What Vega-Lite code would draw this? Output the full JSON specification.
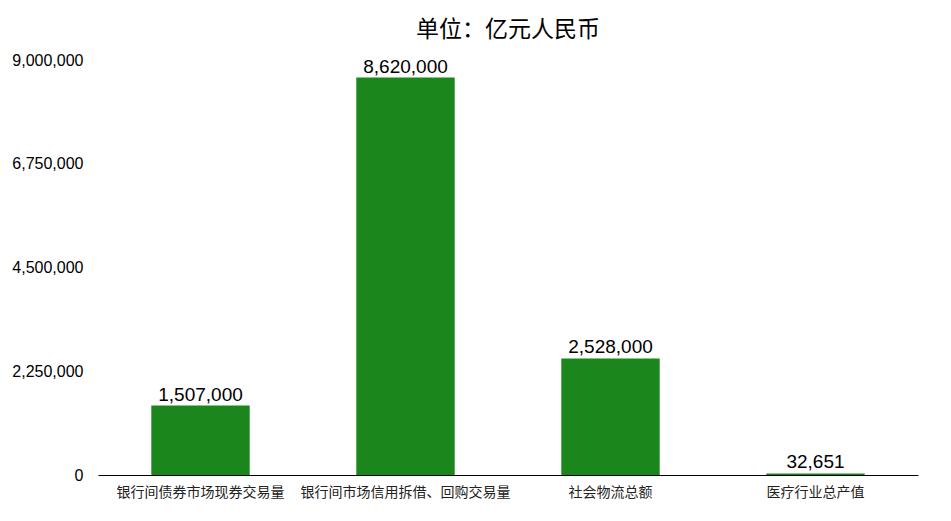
{
  "$schema": "https://vega.github.io/schema/vega-lite/v6.json",
  "autosize": "none",
  "padding": {"left": 98, "top": 60, "right": 33, "bottom": 46},
  "width": 820,
  "height": 415,
  "background": "white",
  "title": {
    "text": "单位：亿元人民币",
    "font": "Noto Sans CJK SC",
    "fontSize": 23,
    "fontWeight": "normal",
    "color": "#000000",
    "anchor": "middle",
    "offset": 10
  },
  "data": {
    "values": [
      {"item": "银行间债券市场现券交易量", "value": 1507000},
      {"item": "银行间市场信用拆借、回购交易量", "value": 8620000},
      {"item": "社会物流总额", "value": 2528000},
      {"item": "医疗行业总产值", "value": 32651}
    ]
  },
  "encoding": {
    "x": {
      "field": "item",
      "type": "nominal",
      "sort": null,
      "scale": {"paddingInner": 0.52, "paddingOuter": 0.26},
      "axis": {"title": null}
    },
    "y": {
      "field": "value",
      "type": "quantitative",
      "scale": {"domain": [0, 9000000], "nice": false},
      "axis": {
        "title": null,
        "values": [0, 2250000, 4500000, 6750000, 9000000],
        "labelExpr": "format(datum.value, ',')"
      }
    }
  },
  "layer": [
    {"mark": {"type": "bar", "color": "#1b861b"}},
    {
      "mark": {
        "type": "text",
        "baseline": "alphabetic",
        "dy": -5,
        "fontSize": 19,
        "font": "Liberation Sans",
        "color": "#000000"
      },
      "encoding": {"text": {"field": "value", "type": "quantitative", "format": ","}}
    }
  ],
  "config": {
    "view": {"stroke": null},
    "axisX": {
      "labelAngle": 0,
      "ticks": false,
      "grid": false,
      "domainColor": "#000000",
      "domainWidth": 1,
      "labelPadding": 10,
      "labelFontSize": 14,
      "labelLimit": 400,
      "labelColor": "#222222",
      "labelFont": "Noto Sans CJK SC"
    },
    "axisY": {
      "grid": false,
      "domain": false,
      "ticks": false,
      "labelPadding": 15,
      "labelFontSize": 16,
      "labelColor": "#000000",
      "labelFont": "Liberation Sans"
    }
  }
}
